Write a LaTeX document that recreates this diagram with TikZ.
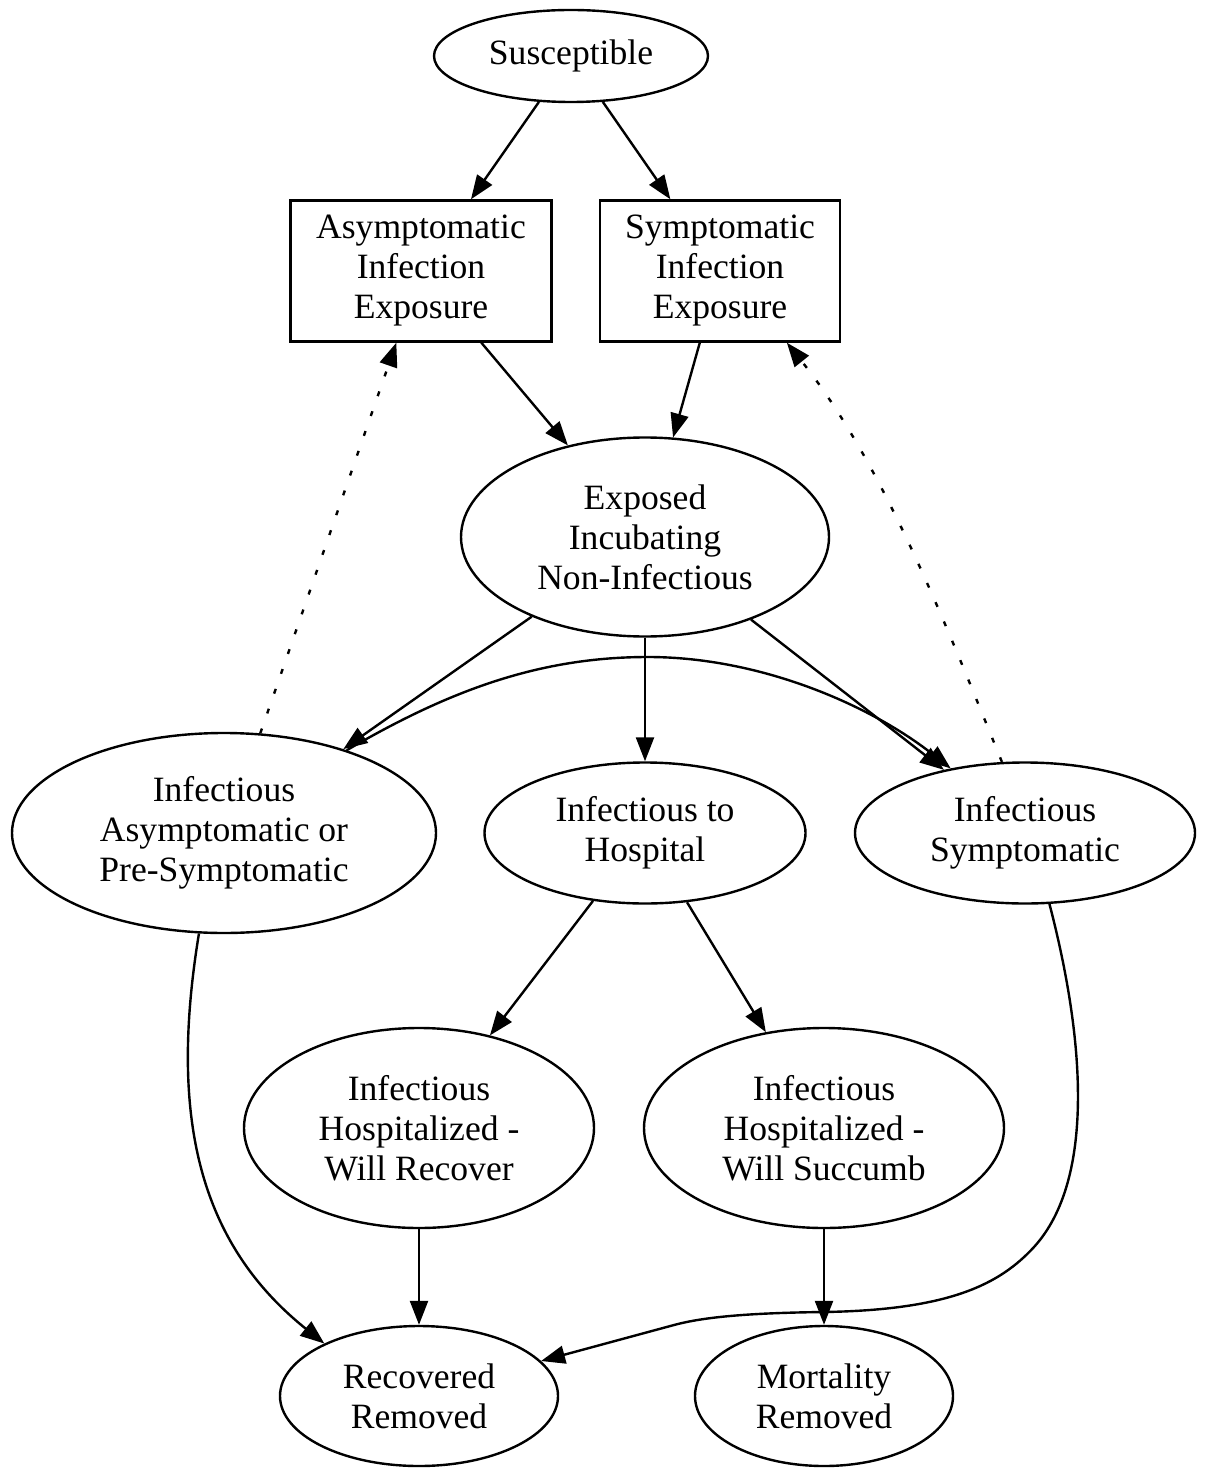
\documentclass[tikz,border=0pt]{standalone}
\usepackage{fontspec}
\setmainfont{Liberation Serif}
\usetikzlibrary{arrows.meta,shapes.geometric}

\tikzset{
    compartment/.style={draw, ellipse, line width=1.2pt, inner sep=0pt, align=center,
        font=\fontsize{17.8}{20}\selectfont},
    exposure/.style={draw, rectangle, line width=1.2pt, inner sep=0pt, align=center,
        minimum height=70.5pt, font=\fontsize{17.8}{20}\selectfont},
    flow/.style={-{Triangle[length=12pt,width=9pt]}, line width=1.2pt},
    contact/.style={flow, dash pattern=on 2.5pt off 8pt}
}

\begin{document}
\begin{tikzpicture}[x=0.5pt,y=-0.5pt]
                    \useasboundingbox (0,0) rectangle (1206,1470);
                    % compartments
                    \node[compartment, minimum width=137pt, minimum height=46pt] (susc) at (571,56) {Susceptible};
                    \node[exposure, minimum width=130.5pt] (aexp) at (421,271) {Asymptomatic\\Infection\\Exposure};
                    \node[exposure, minimum width=120pt] (sexp) at (720,271) {Symptomatic\\Infection\\Exposure};
                    \node[compartment, minimum width=184pt, minimum height=99.5pt] (expo) at (645,537) {Exposed\\Incubating\\Non-Infectious};
                    \node[compartment, minimum width=212pt, minimum height=100pt] (iasym) at (224,833) {Infectious\\Asymptomatic or\\Pre-Symptomatic};
                    \node[compartment, minimum width=160.5pt, minimum height=70.5pt] (ihosp) at (645,833) {Infectious to\\Hospital};
                    \node[compartment, minimum width=170pt, minimum height=70.5pt] (isym) at (1025,833) {Infectious\\Symptomatic};
                    \node[compartment, minimum width=175pt, minimum height=100pt] (hrec) at (419,1128) {Infectious\\Hospitalized -\\Will Recover};
                    \node[compartment, minimum width=180pt, minimum height=100pt] (hsuc) at (824,1128) {Infectious\\Hospitalized -\\Will Succumb};
                    \node[compartment, minimum width=139pt, minimum height=70pt] (rec) at (419,1396) {Recovered\\Removed};
                    \node[compartment, minimum width=129pt, minimum height=70pt] (mort) at (824,1396) {Mortality\\Removed};
                    % transitions
                    \draw[flow] (susc) -- (aexp);
                    \draw[flow] (susc) -- (sexp);
                    \draw[flow] (aexp) -- (expo);
                    \draw[flow] (sexp) -- (expo);
                    \draw[flow] (expo) -- (iasym);
                    \draw[flow] (expo) -- (ihosp);
                    \draw[flow] (expo) -- (isym);
                    \draw[flow] (iasym.34.9) .. controls (450,690) and (540,657) .. (648,657)
                        .. controls (760,657) and (870,705) .. (isym.139.7);
                    \draw[flow] (ihosp) -- (hrec);
                    \draw[flow] (ihosp) -- (hsuc);
                    \draw[flow] (hrec) -- (rec);
                    \draw[flow] (hsuc) -- (mort);
                    \draw[flow] (iasym.256) .. controls (170,1110) and (195,1240) .. (rec.151.5);
                    \draw[flow] (isym.289.4) .. controls (1085,1040) and (1095,1180) .. (1034,1247)
                        .. controls (1000,1284) and (950,1310) .. (824,1312)
                        .. controls (740,1313) and (700,1318) .. (674,1325) -- (rec.16);
                    % contacts back to exposure
                    \draw[contact] (iasym.70.2) -- (aexp.251.3);
                    \draw[contact] (isym.108.9) .. controls (944,620) and (882,462) .. (sexp.313);
                \end{tikzpicture}
\end{document}
